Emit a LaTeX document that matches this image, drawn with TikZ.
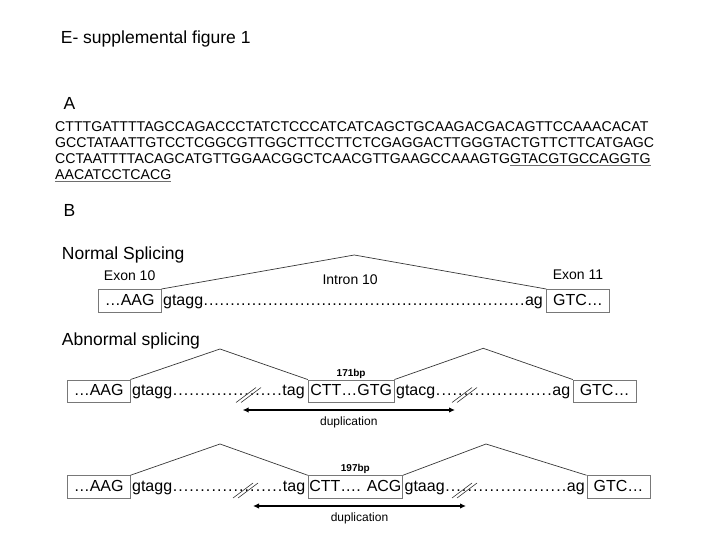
\documentclass[tikz,border=0pt]{standalone}
\usepackage{fontspec}
\setmainfont{Liberation Sans}
\usetikzlibrary{positioning,arrows.meta,calc}
\definecolor{boxclr}{RGB}{120,120,120}
\definecolor{lineclr}{RGB}{55,55,55}
\definecolor{ulclr}{RGB}{110,110,110}
\tikzset{
    lbl/.style={inner sep=0pt,anchor=base west},
    head/.style={lbl,font=\fontsize{17.5}{20}\selectfont},
    seq/.style={lbl,font=\fontsize{14.15}{16}\selectfont},
    tag/.style={inner sep=0pt,font=\fontsize{14}{16}\selectfont},
    exon/.style={draw=boxclr,line width=0.9pt,inner xsep=1pt,inner ysep=0pt,minimum height=22.7pt,text height=11.5pt,text depth=2.5pt,font=\fontsize{16}{18}\selectfont},
    intr/.style={inner sep=0pt,anchor=base west,font=\fontsize{16}{18}\selectfont},
    arc/.style={draw=lineclr,line width=0.7pt},
    brk/.style={draw=lineclr,line width=0.6pt},
    dup/.style={{Latex[length=6pt,width=5.5pt]}-{Latex[length=6pt,width=5.5pt]},line width=1.4pt},
    bp/.style={inner sep=0pt,font=\fontsize{10}{12}\selectfont\bfseries},
    dlbl/.style={inner sep=0pt,font=\fontsize{12}{14}\selectfont},
}
\newcommand{\dts}{\xleaders\hbox to 0.333em{\hss.\hss}\hfill}
\newcommand{\ul}[1]{\textcolor{ulclr}{\underline{\textcolor{black}{#1}}}}
\newcommand{\brk}[1]{\draw[brk] ($(#1)+(-13,8)$) -- +(20,-15) ($(#1)+(-8,8)$) -- +(20,-15);}

\begin{document}
\begin{tikzpicture}[x=1pt,y=-1pt]
\useasboundingbox (0,0) rectangle (720,540);

\node[head] (title) at (60.7,43.3) {E- supplemental figure 1};
\node[head] (secA) at (63.3,109.3) {A};
\node[seq] (s1) at (55,132) {CTTTGATTTTAGCCAGACCCTATCTCCCATCATCAGCTGCAAGACGACAGTTCCAAACACAT};
\node[seq] (s2) at ([yshift=-16pt]s1.base west) {GCCTATAATTGTCCTCGGCGTTGGCTTCCTTCTCGAGGACTTGGGTACTGTTCTTCATGAGC};
\node[seq] (s3) at ([yshift=-16pt]s2.base west) {CCTAATTTTACAGCATGTTGGAACGGCTCAACGTTGAAGCCAAAGTG\ul{GTACGTGCCAGGTG}};
\node[seq] (s4) at ([yshift=-16pt]s3.base west) {\ul{AACATCCTCACG}};

\node[head] (secB) at (63.3,216.7) {B};
\node[head] (normal) at (61.7,259.3) {Normal Splicing};
\node[exon,minimum width=62.7pt] (e10) at (129.65,300.8) {…AAG};
\node[exon,minimum width=62.6pt] (e11) at (578,300.8) {GTC…};
\node[tag,above=8.3pt of e10] (x10) {Exon 10};
\node[tag,above=9.3pt of e11] (x11) {Exon 11};
\node[intr] (i1) at ([xshift=1.5pt]e10.base east) {\hbox to 379.5pt{gtagg\dts ag}};
\node[tag,anchor=base west] (in10) at (322.3,284) {Intron 10};
\coordinate (p1) at (354.3,255);
\draw[arc] (e10.north east) -- (p1) -- (e11.north west);

\node[head] (abnormal) at (61.7,345) {Abnormal splicing};
\node[exon,minimum width=62.7pt] (a2) at (98.65,391.35) {…AAG};
\node[exon,minimum width=85.7pt] (m2) at (351.15,391.35) {CTT…GTG};
\node[exon,minimum width=62.7pt] (g2) at (604.65,391.35) {GTC…};
\node[intr] (i21) at ([xshift=1.5pt]a2.base east) {\hbox to 172.5pt{gtagg\dts tag}};
\node[intr] (i22) at ([xshift=1.5pt]m2.base east) {\hbox to 174pt{gtacg\dts ag}};
\node[bp,above=1.2pt of m2] (bp2) {171bp};
\coordinate (p21) at (220,349);
\coordinate (p22) at (483.3,348.3);
\draw[arc] (a2.north east) -- (p21) -- (m2.north west);
\draw[arc] (m2.north east) -- (p22) -- (g2.north west);
\coordinate (h21) at (249,394.5);
\coordinate (h22) at (465,394.5);
\brk{h21}
\brk{h22}
\coordinate (d21) at (242.6,410);
\coordinate (d22) at (455,410);
\draw[dup] (d21) -- node[dlbl,below=6.3pt] (l2) {duplication} (d22);

\node[exon,minimum width=62.7pt,minimum height=22.3pt] (a3) at (98.65,486.85) {…AAG};
\node[exon,minimum width=94.3pt,minimum height=22.3pt] (m3) at (355.35,486.85) {CTT…. ACG};
\node[exon,minimum width=63pt,minimum height=22.3pt] (g3) at (618.5,486.85) {GTC…};
\node[intr] (i31) at ([xshift=1.5pt]a3.base east) {\hbox to 173pt{gtagg\dts tag}};
\node[intr] (i32) at ([xshift=1.5pt]m3.base east) {\hbox to 180pt{gtaag\dts ag}};
\node[bp,above=1.2pt of m3] (bp3) {197bp};
\coordinate (p31) at (220,444);
\coordinate (p32) at (486,444);
\draw[arc] (a3.north east) -- (p31) -- (m3.north west);
\draw[arc] (m3.north east) -- (p32) -- (g3.north west);
\coordinate (h31) at (246,490);
\coordinate (h32) at (465,490);
\brk{h31}
\brk{h32}
\coordinate (d31) at (253,506);
\coordinate (d32) at (466,506);
\draw[dup] (d31) -- node[dlbl,below=6.3pt] (l3) {duplication} (d32);
\end{tikzpicture}
\end{document}
